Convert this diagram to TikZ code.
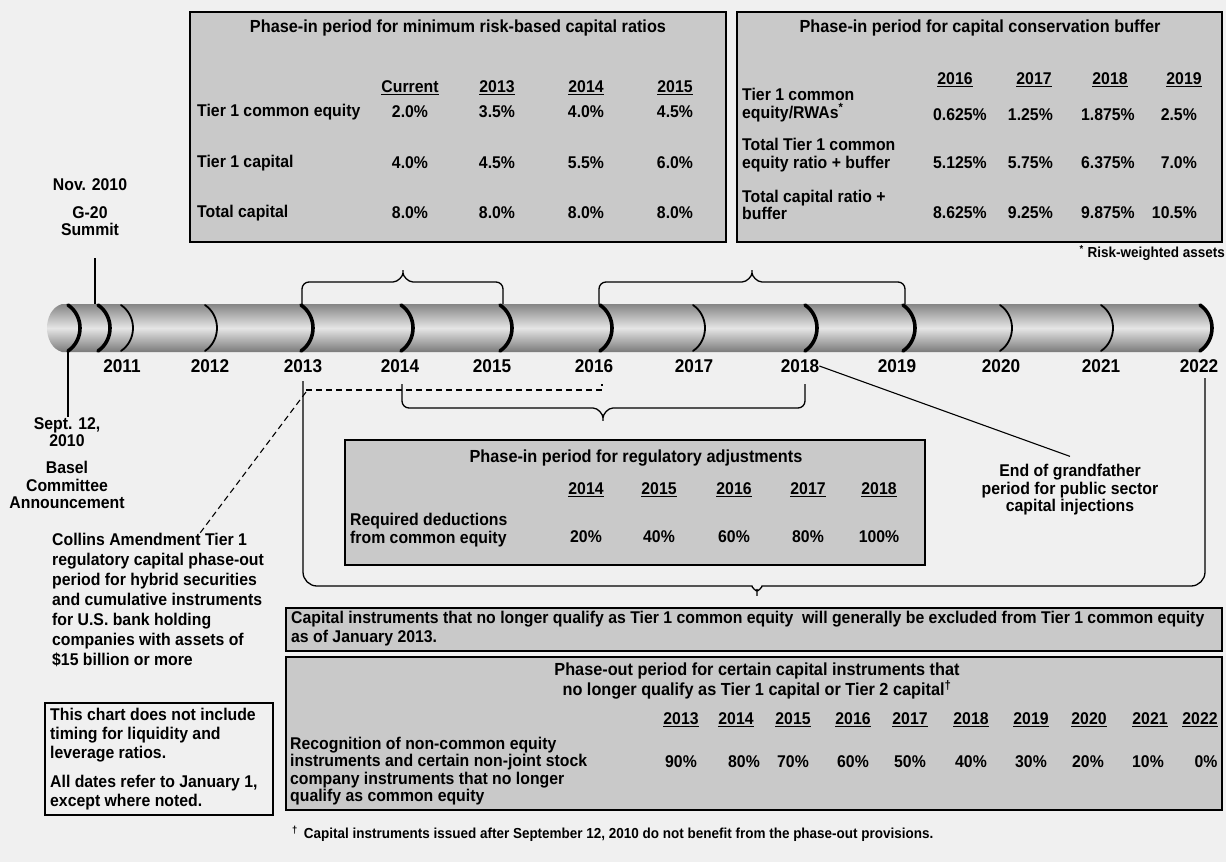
\documentclass[tikz,border=0pt]{standalone}
\usepackage{fontspec}
\setmainfont{Liberation Sans}[UprightFont={* Bold}, FakeStretch=0.93]
\definecolor{paper}{gray}{0.94}
\definecolor{panelgray}{gray}{0.79}
\tikzset{
  txt/.style={font=\fontsize{17}{17.5}\selectfont, inner sep=0pt},
  ttl/.style={font=\fontsize{17.5}{18}\selectfont, inner sep=0pt},
  yearlbl/.style={font=\fontsize{18.5}{19}\selectfont, inner sep=0pt},
  small/.style={font=\fontsize{14.5}{15}\selectfont, inner sep=0pt},
  panel/.style={draw=black, line width=1.5pt, fill=panelgray},
  bigarc/.style={line width=3.6pt, line cap=round},
  smallarc/.style={line width=1.8pt, line cap=round},
  bracket/.style={line width=1.3pt, rounded corners=7pt},
  lead/.style={line width=1.1pt},
  dashlead/.style={line width=1.1pt, dash pattern=on 6pt off 4pt},
}
\begin{document}
\begin{tikzpicture}[x=1pt,y=-1pt]
\fill[paper] (0,0) rectangle (1226,862);
\useasboundingbox (0,0) rectangle (1226,862);

\draw[panel] (190,12) rectangle (726,242);
\node[ttl] (ttlA) at (458,28) {Phase-in period for minimum risk-based capital ratios};
\node[txt] (hA0) at (410,88) {\underline{Current}};
\node[txt] (hA1) at (497,88) {\underline{2013}};
\node[txt] (hA2) at (586,88) {\underline{2014}};
\node[txt] (hA3) at (675,88) {\underline{2015}};
\node[txt,anchor=west] (rA1) at (197,112) {Tier 1 common equity};
\node[txt,anchor=west] (rA2) at (197,163) {Tier 1 capital};
\node[txt,anchor=west] (rA3) at (197,213) {Total capital};
\node[txt] (vA10) at (410,112) {2.0\%};
\node[txt] (vA11) at (497,112) {3.5\%};
\node[txt] (vA12) at (586,112) {4.0\%};
\node[txt] (vA13) at (675,112) {4.5\%};
\node[txt] (vA20) at (410,163) {4.0\%};
\node[txt] (vA21) at (497,163) {4.5\%};
\node[txt] (vA22) at (586,163) {5.5\%};
\node[txt] (vA23) at (675,163) {6.0\%};
\node[txt] (vA30) at (410,213) {8.0\%};
\node[txt] (vA31) at (497,213) {8.0\%};
\node[txt] (vA32) at (586,213) {8.0\%};
\node[txt] (vA33) at (675,213) {8.0\%};

\draw[panel] (737,12) rectangle (1222,242);
\node[ttl] (ttlB) at (980,28) {Phase-in period for capital conservation buffer};
\node[txt] (hB0) at (955,80) {\underline{2016}};
\node[txt] (hB1) at (1034,80) {\underline{2017}};
\node[txt] (hB2) at (1110,80) {\underline{2018}};
\node[txt] (hB3) at (1184,80) {\underline{2019}};
\node[txt,anchor=west,align=left] (rB1) at (742,105) {Tier 1 common\\equity/RWAs\textsuperscript{*}};
\node[txt,anchor=west,align=left] (rB2) at (742,155) {Total Tier 1 common\\equity ratio + buffer};
\node[txt,anchor=west,align=left] (rB3) at (742,205) {Total capital ratio +\\buffer};
\node[txt,anchor=east] (vB10) at (987,115) {0.625\%};
\node[txt,anchor=east] (vB11) at (1053,115) {1.25\%};
\node[txt,anchor=east] (vB12) at (1135,115) {1.875\%};
\node[txt,anchor=east] (vB13) at (1197,115) {2.5\%};
\node[txt,anchor=east] (vB20) at (987,163) {5.125\%};
\node[txt,anchor=east] (vB21) at (1053,163) {5.75\%};
\node[txt,anchor=east] (vB22) at (1135,163) {6.375\%};
\node[txt,anchor=east] (vB23) at (1197,163) {7.0\%};
\node[txt,anchor=east] (vB30) at (987,213) {8.625\%};
\node[txt,anchor=east] (vB31) at (1053,213) {9.25\%};
\node[txt,anchor=east] (vB32) at (1135,213) {9.875\%};
\node[txt,anchor=east] (vB33) at (1197,213) {10.5\%};
\node[small,anchor=east] (rwa) at (1225,253) {\textsuperscript{*} Risk-weighted assets};

\shade[top color=black!48, bottom color=black!52, middle color=black!10] (62,304) -- (1200,304) .. controls (1216,316) and (1216,340) .. (1200,352) -- (62,352) .. controls (42,346) and (42,310) .. (62,304) -- cycle;
\draw[bigarc] (68,305) .. controls (84,316) and (84,340) .. (68,351);
\draw[bigarc] (98,305) .. controls (114,316) and (114,340) .. (98,351);
\draw[smallarc] (121,305) .. controls (137,316) and (137,340) .. (121,351);
\draw[smallarc] (205,305) .. controls (221,316) and (221,340) .. (205,351);
\draw[bigarc] (301,305) .. controls (317,316) and (317,340) .. (301,351);
\draw[bigarc] (401,305) .. controls (417,316) and (417,340) .. (401,351);
\draw[bigarc] (500,305) .. controls (516,316) and (516,340) .. (500,351);
\draw[bigarc] (600,305) .. controls (616,316) and (616,340) .. (600,351);
\draw[smallarc] (693,305) .. controls (709,316) and (709,340) .. (693,351);
\draw[bigarc] (805,305) .. controls (821,316) and (821,340) .. (805,351);
\draw[bigarc] (903,305) .. controls (919,316) and (919,340) .. (903,351);
\draw[smallarc] (1000,305) .. controls (1016,316) and (1016,340) .. (1000,351);
\draw[smallarc] (1101,305) .. controls (1117,316) and (1117,340) .. (1101,351);
\draw[bigarc] (1200,305) .. controls (1216,316) and (1216,340) .. (1200,351);

\node[yearlbl] (y2011) at (122,366) {2011};
\node[yearlbl] (y2012) at (210,366) {2012};
\node[yearlbl] (y2013) at (303,366) {2013};
\node[yearlbl] (y2014) at (400,366) {2014};
\node[yearlbl] (y2015) at (492,366) {2015};
\node[yearlbl] (y2016) at (594,366) {2016};
\node[yearlbl] (y2017) at (694,366) {2017};
\node[yearlbl] (y2018) at (800,366) {2018};
\node[yearlbl] (y2019) at (897,366) {2019};
\node[yearlbl] (y2020) at (1001,366) {2020};
\node[yearlbl] (y2021) at (1101,366) {2021};
\node[yearlbl] (y2022) at (1199,366) {2022};

\node[txt] (nov) at (90,185) {Nov. 2010};
\node[txt,align=center] (g20) at (90,221) {G-20\\Summit};
\coordinate (novtop) at (95,258);
\coordinate (novbase) at (95,304);
\draw[lead] (novtop) -- (novbase);

\coordinate (septbase) at (68,352);
\node[txt,align=center] (sept) at (67,432) {Sept. 12,\\2010};
\node[txt,align=center] (basel) at (67,485) {Basel\\Committee\\Announcement};
\draw[lead] (septbase) -- (septbase |- sept.north);

\draw[bracket] (302,304) -- (302,282) -- (386,282) .. controls (398,282) and (403,276) .. (403,266) .. controls (403,276) and (408,282) .. (420,282) -- (503,282) -- (503,304);
\draw[bracket] (599,304) -- (599,282) -- (735,282) .. controls (747,282) and (752,276) .. (752,266) .. controls (752,276) and (757,282) .. (769,282) -- (905,282) -- (905,304);
\draw[bracket] (402,384) -- (402,408) -- (586,408) .. controls (598,408) and (603,414) .. (603,425) .. controls (603,414) and (608,408) .. (620,408) -- (805,408) -- (805,384);
\draw[bracket,rounded corners=14pt] (303,381) -- (303,586) -- (738,586) .. controls (751,586) and (757,593) .. (757,604) .. controls (757,593) and (763,586) .. (776,586) -- (1205,586) -- (1205,378);
\draw[dashlead] (306,390) -- (602,390) -- (602,384);

\node[txt,anchor=north west,align=left,font=\fontsize{17}{20}\selectfont] (collins) at (52,533) {Collins Amendment Tier 1\\regulatory capital phase-out\\period for hybrid securities\\and cumulative instruments\\for U.S. bank holding\\companies with assets of\\\$15 billion or more};
\coordinate (collinsturn) at (306,392);
\draw[dashlead] (collinsturn) -- ([xshift=42pt]collins.north);

\node[txt,align=center] (gf) at (1070,490) {End of grandfather\\period for public sector\\capital injections};
\draw[lead] (y2018.east) -- ([yshift=8pt]gf.north);

\draw[panel] (345,440) rectangle (925,565);
\node[ttl] (ttlC) at (636,458) {Phase-in period for regulatory adjustments};
\node[txt] (hC0) at (586,490) {\underline{2014}};
\node[txt] (hC1) at (659,490) {\underline{2015}};
\node[txt] (hC2) at (734,490) {\underline{2016}};
\node[txt] (hC3) at (808,490) {\underline{2017}};
\node[txt] (hC4) at (879,490) {\underline{2018}};
\node[txt,anchor=west,align=left] (rC1) at (350,530) {Required deductions\\from common equity};
\node[txt] (vC0) at (586,537) {20\%};
\node[txt] (vC1) at (659,537) {40\%};
\node[txt] (vC2) at (734,537) {60\%};
\node[txt] (vC3) at (808,537) {80\%};
\node[txt] (vC4) at (879,537) {100\%};

\draw[panel] (286,608) rectangle (1222,651);
\node[txt,anchor=north west,align=left,font=\fontsize{17}{19}\selectfont] (excl) at (291,611) {Capital instruments that no longer qualify as Tier 1 common equity\ \ will generally be excluded from Tier 1 common equity\\as of January 2013.};

\draw[panel] (286,657) rectangle (1222,810);
\node[ttl,align=center] (ttlE) at (757,681) {Phase-out period for certain capital instruments that\\no longer qualify as Tier 1 capital or Tier 2 capital\textsuperscript{†}};
\node[txt] (hE0) at (681,720) {\underline{2013}};
\node[txt] (hE1) at (736,720) {\underline{2014}};
\node[txt] (hE2) at (793,720) {\underline{2015}};
\node[txt] (hE3) at (853,720) {\underline{2016}};
\node[txt] (hE4) at (910,720) {\underline{2017}};
\node[txt] (hE5) at (971,720) {\underline{2018}};
\node[txt] (hE6) at (1031,720) {\underline{2019}};
\node[txt] (hE7) at (1089,720) {\underline{2020}};
\node[txt] (hE8) at (1150,720) {\underline{2021}};
\node[txt] (hE9) at (1200,720) {\underline{2022}};
\node[txt,anchor=west,align=left] (rE1) at (290,771) {Recognition of non-common equity\\instruments and certain non-joint stock\\company instruments that no longer\\qualify as common equity};
\node[txt] (vE0) at (681,762) {90\%};
\node[txt] (vE1) at (744,762) {80\%};
\node[txt] (vE2) at (793,762) {70\%};
\node[txt] (vE3) at (853,762) {60\%};
\node[txt] (vE4) at (910,762) {50\%};
\node[txt] (vE5) at (971,762) {40\%};
\node[txt] (vE6) at (1031,762) {30\%};
\node[txt] (vE7) at (1088,762) {20\%};
\node[txt] (vE8) at (1148,762) {10\%};
\node[txt] (vE9) at (1206,762) {0\%};
\node[small,anchor=west] (foot) at (292,834) {\textsuperscript{†}\hspace{6pt}Capital instruments issued after September 12, 2010 do not benefit from the phase-out provisions.};

\draw[draw=black, line width=1.3pt] (45,703) rectangle (273,815);
\node[txt,anchor=north west,align=left,font=\fontsize{17}{19}\selectfont] (scopenote) at (50,708) {This chart does not include\\timing for liquidity and\\leverage ratios.\\[10pt]All dates refer to January 1,\\except where noted.};
\end{tikzpicture}
\end{document}
